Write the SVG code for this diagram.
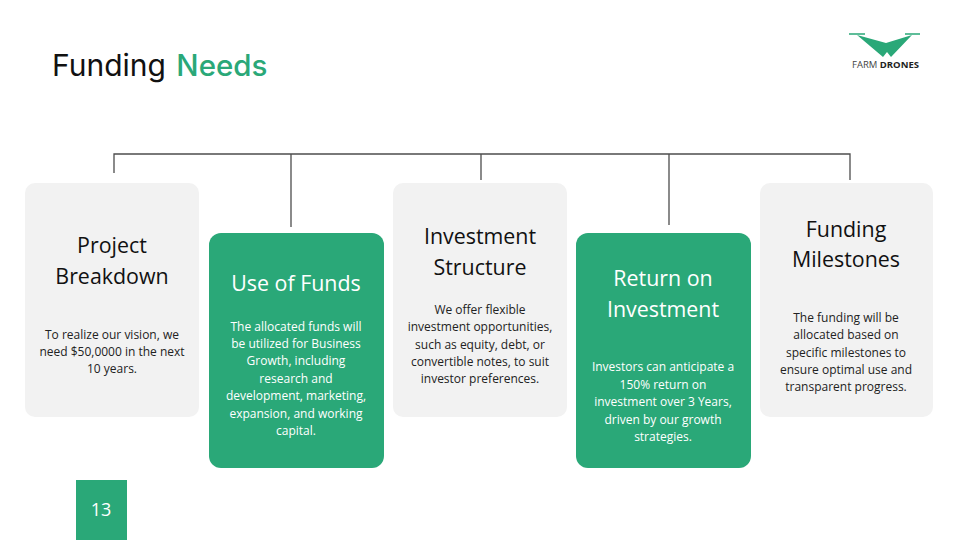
<svg xmlns="http://www.w3.org/2000/svg" width="960" height="540" viewBox="0 0 960 540">
<style>
text{font-family:"Open Sans","Noto Sans",sans-serif;text-anchor:middle}
.t{font-size:21.4px;fill:#111}
.tw{font-size:21.4px;fill:#fff}
.b{font-size:12px;fill:#222}
.bw{font-size:12px;fill:#fff}
.g{fill:#f2f2f2}
.e{fill:#2aa878}
.c{fill:none;stroke:#4d4d4d;stroke-width:1.3}
</style>
<rect width="960" height="540" fill="#fff"/>
<g id="title"><text x="52" y="76" style="text-anchor:start;font-family:Inter,sans-serif;font-size:30px;word-spacing:2px" fill="#111">Funding <tspan fill="#2aa878" font-size="29.500" font-weight="500">Needs</tspan></text></g>
<g id="logo"><path class="e" d="M857 35L886 43 912 35 891 57 887 52 883 57Z"/><path fill="none" stroke="#2aa878" stroke-width="1.5" d="M849 34H865M905 34H920"/><text x="885.500" y="68" style="font-size:9.500px;font-family:'Open Sans',sans-serif" fill="#444">FARM <tspan font-weight="700" fill="#222">DRONES</tspan></text></g>
<g id="connectors"><path class="c" d="M114 173V154H850V180M291 154V227M481 154V180M669 154V225"/></g>
<g id="n1"><rect class="g" x="25" y="183" width="174" height="234" rx="10"/><text class="t" x="112" y="253">Project</text><text class="t" x="112" y="284">Breakdown</text><text class="b" x="112" y="339">To realize our vision, we</text><text class="b" x="112" y="356">need $50,0000 in the next</text><text class="b" x="112" y="373">10 years.</text></g>
<g id="n2"><rect class="e" x="209" y="233" width="175" height="235" rx="12"/><text class="tw" x="296" y="291">Use of Funds</text><text class="bw" x="296" y="331">The allocated funds will</text><text class="bw" x="296" y="348">be utilized for Business</text><text class="bw" x="296" y="365">Growth, including</text><text class="bw" x="296" y="383">research and</text><text class="bw" x="296" y="400">development, marketing,</text><text class="bw" x="296" y="418">expansion, and working</text><text class="bw" x="296" y="435">capital.</text></g>
<g id="n3"><rect class="g" x="393" y="183" width="174" height="234" rx="10"/><text class="t" x="480" y="244">Investment</text><text class="t" x="480" y="275">Structure</text><text class="b" x="480" y="314">We offer flexible</text><text class="b" x="480" y="331">investment opportunities,</text><text class="b" x="480" y="349">such as equity, debt, or</text><text class="b" x="480" y="366">convertible notes, to suit</text><text class="b" x="480" y="383">investor preferences.</text></g>
<g id="n4"><rect class="e" x="576" y="233" width="175" height="235" rx="12"/><text class="tw" x="663" y="286">Return on</text><text class="tw" x="663" y="317">Investment</text><text class="bw" x="663" y="371">Investors can anticipate a</text><text class="bw" x="663" y="389">150% return on</text><text class="bw" x="663" y="406">investment over 3 Years,</text><text class="bw" x="663" y="424">driven by our growth</text><text class="bw" x="663" y="441">strategies.</text></g>
<g id="n5"><rect class="g" x="760" y="183" width="173" height="234" rx="10"/><text class="t" x="846" y="237">Funding</text><text class="t" x="846" y="267">Milestones</text><text class="b" x="846" y="322">The funding will be</text><text class="b" x="846" y="339">allocated based on</text><text class="b" x="846" y="357">specific milestones to</text><text class="b" x="846" y="374">ensure optimal use and</text><text class="b" x="846" y="391">transparent progress.</text></g>
<g id="page"><rect class="e" x="76" y="480" width="51" height="60"/><text x="101" y="516" style="font-size:18px" fill="#fff">13</text></g>
</svg>
